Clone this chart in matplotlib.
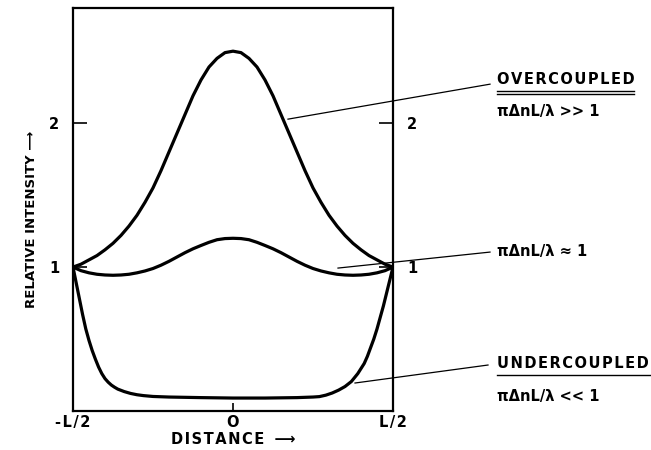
import matplotlib.pyplot as plt

# distance along coupler (units of L) and relative intensity
x_over = [-0.5, -0.475, -0.45, -0.425, -0.4, -0.375, -0.35, -0.325, -0.3, -0.275, -0.25,
          -0.225, -0.2, -0.175, -0.15, -0.125, -0.1, -0.075, -0.05, -0.025, 0.0,
          0.025, 0.05, 0.075, 0.1, 0.125, 0.15, 0.175, 0.2, 0.225, 0.25,
          0.275, 0.3, 0.325, 0.35, 0.375, 0.4, 0.425, 0.45, 0.475, 0.5]
y_over = [1.00, 1.02, 1.05, 1.08, 1.12, 1.165, 1.22, 1.285, 1.36, 1.45, 1.55,
          1.67, 1.80, 1.93, 2.06, 2.19, 2.30, 2.39, 2.45, 2.49, 2.50,
          2.49, 2.45, 2.39, 2.30, 2.19, 2.06, 1.93, 1.80, 1.67, 1.55,
          1.45, 1.36, 1.285, 1.22, 1.165, 1.12, 1.08, 1.05, 1.02, 1.00]

x_mid = x_over
y_mid = [1.00, 0.975, 0.96, 0.95, 0.945, 0.943, 0.945, 0.95, 0.96, 0.973, 0.99,
         1.013, 1.04, 1.07, 1.10, 1.127, 1.15, 1.172, 1.19, 1.198, 1.20,
         1.198, 1.19, 1.172, 1.15, 1.127, 1.10, 1.07, 1.04, 1.013, 0.99,
         0.973, 0.96, 0.95, 0.945, 0.943, 0.945, 0.95, 0.96, 0.975, 1.00]

x_under = [-0.5, -0.49, -0.48, -0.47, -0.46, -0.45, -0.44, -0.43, -0.42, -0.41, -0.4,
           -0.39, -0.38, -0.37, -0.36, -0.34, -0.32, -0.3, -0.28, -0.25, -0.2, -0.1, 0.0,
           0.1, 0.2, 0.25, 0.27, 0.29, 0.31, 0.33, 0.35, 0.37, 0.39, 0.41,
           0.42, 0.43, 0.44, 0.45, 0.46, 0.47, 0.48, 0.49, 0.5]
y_under = [1.0, 0.89, 0.78, 0.67, 0.57, 0.49, 0.42, 0.36, 0.305, 0.26, 0.225,
           0.20, 0.18, 0.165, 0.152, 0.135, 0.122, 0.113, 0.107, 0.101, 0.097, 0.093, 0.09,
           0.09, 0.093, 0.097, 0.10, 0.11, 0.125, 0.145, 0.17, 0.205, 0.26, 0.33,
           0.38, 0.44, 0.50, 0.57, 0.65, 0.73, 0.82, 0.91, 1.0]

xticks = [-0.5, 0.0, 0.5]
xtick_labels = ['-L/2', 'O', 'L/2']
yticks = [1, 2]
ytick_labels = ['1', '2']


def spaced(s):
    # lettering in the original is widely spaced
    return '\u200a'.join(s)


plt.rcParams['font.family'] = 'DejaVu Sans'
fig = plt.figure(figsize=(6.51, 4.50), dpi=100)
ax = fig.add_axes([73 / 651, 1 - 411 / 450, 320 / 651, 403 / 450])

for xs, ys in [(x_over, y_over), (x_mid, y_mid), (x_under, y_under)]:
    ax.plot(xs, ys, color='black', lw=2.3, solid_joinstyle='round', solid_capstyle='round')

ax.set_xlim(-0.5, 0.5)
ax.set_ylim(0, 2.8)
for s in ax.spines.values():
    s.set_linewidth(1.6)

ax.set_xticks(xticks)
ax.set_xticklabels([spaced(t) for t in xtick_labels], fontsize=10.5, fontweight='bold')
ax.set_yticks(yticks)
ax.set_yticklabels(ytick_labels, fontsize=10.5, fontweight='bold')
ax.tick_params(axis='y', direction='in', length=10, width=1.2, pad=10,
               right=True, labelright=True)
ax.tick_params(axis='x', direction='in', length=6, width=1.2, pad=3, top=False)
# only the centre tick is drawn on the x axis
for t in ax.xaxis.get_major_ticks():
    if t.get_loc() != 0.0:
        t.tick1line.set_visible(False)

ax.set_xlabel(spaced('DISTANCE') + '  \u27f6', fontsize=10.5, fontweight='bold', labelpad=1)
ax.set_ylabel('RELATIVE INTENSITY \u27f6', fontsize=9.5, fontweight='bold')
ax.yaxis.set_label_coords(-0.11, 0.476)


def px(x, y):
    # reference pixel position -> data units
    return ((x - 73) / 320 - 0.5, (411 - y) / 144)


leaders = [((288, 119), (490, 84)), ((338, 268), (490, 252)), ((355, 383), (488, 365))]
for a, b in leaders:
    p, q = px(*a), px(*b)
    ax.plot([p[0], q[0]], [p[1], q[1]], color='black', lw=0.9, clip_on=False)

tk = dict(fontsize=10.5, fontweight='bold', ha='left', va='center', clip_on=False)
ax.text(*px(497, 79), spaced('OVERCOUPLED'), **tk)
ax.text(*px(497, 111), '\u03c0\u0394nL/\u03bb >> 1', **tk)
ax.text(*px(497, 251), '\u03c0\u0394nL/\u03bb \u2248 1', **tk)
ax.text(*px(497, 363), spaced('UNDERCOUPLED'), **tk)
ax.text(*px(497, 396), '\u03c0\u0394nL/\u03bb << 1', **tk)

for yline in (91, 94):
    a, b = px(497, yline), px(634, yline)
    ax.plot([a[0], b[0]], [a[1], b[1]], color='black', lw=1.0, clip_on=False)
a, b = px(497, 375), px(651, 375)
ax.plot([a[0], b[0]], [a[1], b[1]], color='black', lw=1.0, clip_on=False)

fig.savefig('out.png', dpi=100)
